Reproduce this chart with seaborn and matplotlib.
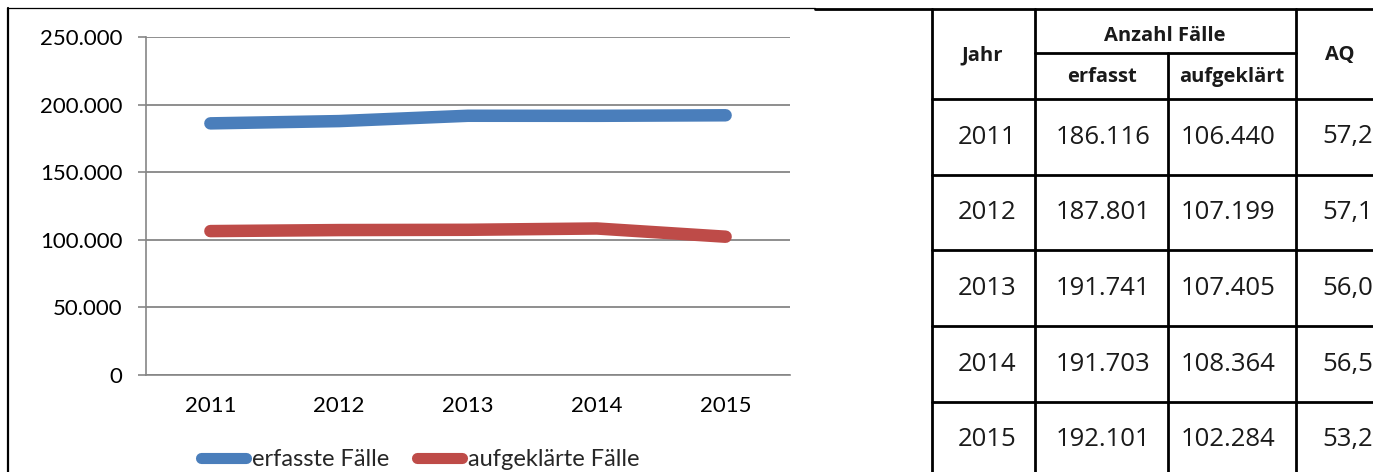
import pandas as pd
from matplotlib import pyplot as plt
import seaborn as sns

# Daten
jahre = ["2011", "2012", "2013", "2014", "2015"]
erfasst = [186116, 187801, 191741, 191703, 192101]
aufgeklaert = [106440, 107199, 107405, 108364, 102284]
aq = [57.2, 57.1, 56.0, 56.5, 53.2]
serien = ["erfasste Fälle", "aufgeklärte Fälle"]
farben = ["#4A7EBB", "#BE4B48"]
y_ticks = [0, 50000, 100000, 150000, 200000, 250000]


def punkt(v):
    return f"{v:,}".replace(",", ".")


def komma(v):
    return f"{v:.1f}".replace(".", ",")


df = pd.DataFrame({
    "Jahr": jahre * 2,
    "Fälle": erfasst + aufgeklaert,
    "Serie": [serien[0]] * len(jahre) + [serien[1]] * len(jahre),
})

sns.set_style("white")
plt.rcParams['font.family'] = ['Lato', 'DejaVu Sans']

W, H = 1373, 472
fig = plt.figure(figsize=(W / 100, H / 100), dpi=100)

# Overlay in Pixelkoordinaten fuer Rahmen und Tabelle
ov = fig.add_axes([0, 0, 1, 1])
ov.set_xlim(0, W)
ov.set_ylim(H, 0)
ov.axis("off")

ov.plot([8, 8], [8, H], color="black", lw=1.6)
ov.plot([8, 815], [8, 8], color="black", lw=0.9)
ov.plot([815, W], [9, 9], color="black", lw=2.0)

ov.plot([932, 932], [9, H], color="black", lw=2.0)
ov.plot([1035, 1035], [9, H], color="black", lw=2.0)
ov.plot([1296, 1296], [9, H], color="black", lw=2.0)
ov.plot([1168, 1168], [53, H], color="black", lw=2.0)
ov.plot([1035, 1296], [53, 53], color="black", lw=2.0)
for ry in [99, 175, 250, 326, 402]:
    ov.plot([932, W], [ry, ry], color="black", lw=2.0)

tab_font = ["Open Sans", "Noto Sans", "DejaVu Sans"]
hdr = dict(family=tab_font, fontsize=14.5, fontweight="bold",
           ha="center", va="center", color="#1a1a1a")
ov.text(982, 55, "Jahr", **hdr)
ov.text(1165, 36, "Anzahl Fälle", **hdr)
ov.text(1102, 77, "erfasst", **hdr)
ov.text(1232, 77, "aufgeklärt", **hdr)
ov.text(1340, 55, "AQ", **hdr)

cell = dict(family=tab_font, fontsize=18.5,
            ha="center", va="center", color="#1a1a1a")
for i, j in enumerate(jahre):
    yc = 137 + i * 75.7
    ov.text(987, yc, j, **cell)
    ov.text(1103, yc, punkt(erfasst[i]), **cell)
    ov.text(1228, yc, punkt(aufgeklaert[i]), **cell)
    ov.text(1348, yc, komma(aq[i]), **cell)

# Liniendiagramm
ax = fig.add_axes([146 / W, 1 - 375 / H, (790 - 146) / W, (375 - 37) / H])
ax.set_facecolor("none")
sns.lineplot(data=df, x="Jahr", y="Fälle", hue="Serie", palette=farben,
             linewidth=9, ax=ax, legend=False, sort=False)
for ln in ax.lines:
    ln.set_solid_capstyle("round")
    ln.set_solid_joinstyle("round")

ax.set_xlim(-0.5, len(jahre) - 0.5)
ax.set_ylim(0, 250000)
ax.set_yticks(y_ticks)
ax.set_yticklabels([punkt(v) for v in y_ticks])
ax.set_xticks(range(len(jahre)))
ax.set_xticklabels(jahre)
ax.set_xticks([i - 0.5 for i in range(len(jahre) + 1)], minor=True)
ax.tick_params(axis="x", which="major", length=0, pad=15, labelsize=16, labelcolor="black")
ax.tick_params(axis="x", which="minor", length=6, width=1.2, color="#868686", direction="out")
ax.tick_params(axis="y", length=6, width=1.2, color="#868686", pad=11, labelsize=16,
               labelcolor="black", left=True)
ax.set_xlabel("")
ax.set_ylabel("")
ax.grid(axis="y", color="#868686", lw=1.3)
ax.set_axisbelow(True)
for s in ["top", "right"]:
    ax.spines[s].set_visible(False)
for s in ["left", "bottom"]:
    ax.spines[s].set_color("#868686")
    ax.spines[s].set_linewidth(1.2)

handles = [plt.Line2D([0], [0], color=c, lw=8, solid_capstyle="round") for c in farben]
fig.legend(handles, serien, loc="center", bbox_to_anchor=(0.306, 0.026), ncol=2,
           frameon=False, fontsize=17, handlelength=1.9, handletextpad=0.25,
           columnspacing=1.2, borderpad=0)

fig.savefig("out.png", dpi=100)
